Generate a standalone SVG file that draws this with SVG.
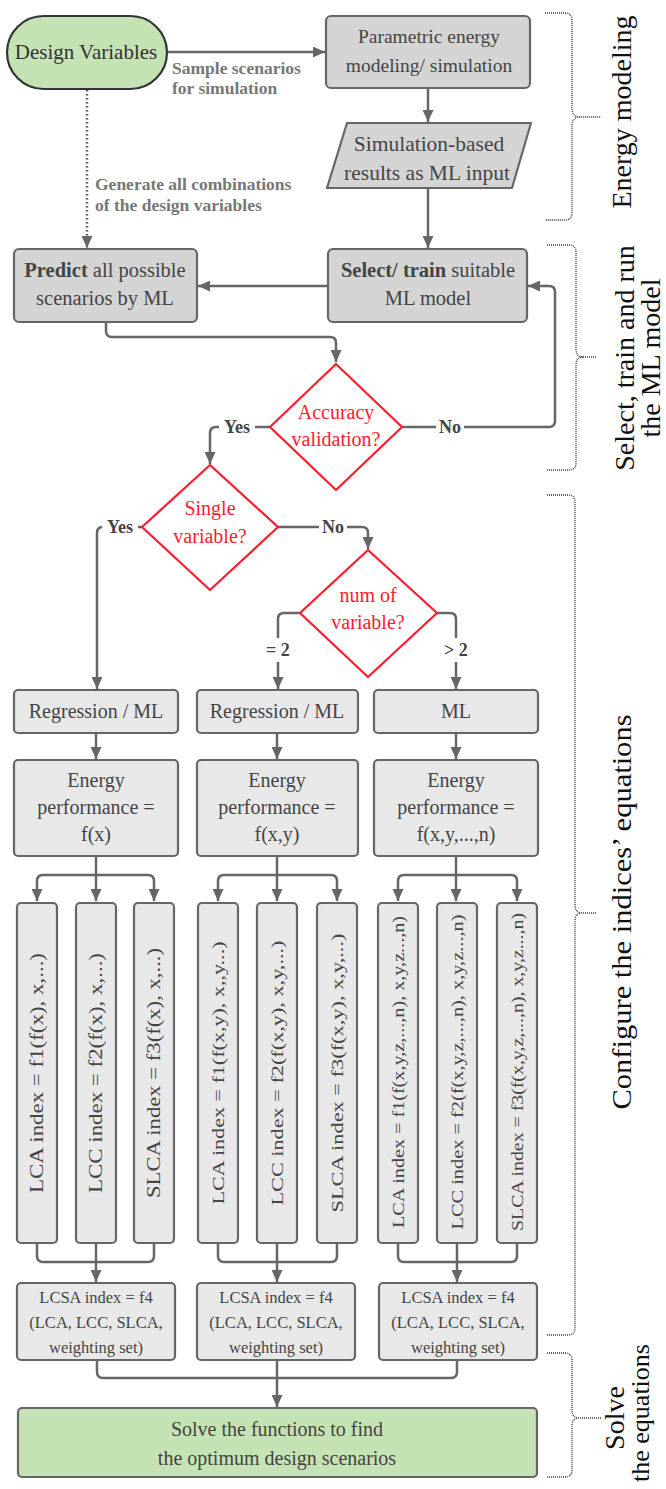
<svg xmlns="http://www.w3.org/2000/svg" width="666" height="1489" viewBox="0 0 666 1489">
<defs>
<marker id="ah" markerUnits="userSpaceOnUse" markerWidth="12" markerHeight="11" refX="12" refY="5.5" orient="auto">
<path d="M0,0 L12,5.5 L0,11 Z" fill="#666"/>
</marker>
<style>
text{font-family:"Liberation Serif","Times New Roman",serif;}
.bx{fill:#d4d4d4;stroke:#666;stroke-width:2.2;}
.lb{fill:#e8e8e8;stroke:#666;stroke-width:2.2;}
.gr{fill:#c4e2b3;stroke:#444;stroke-width:2.2;}
.dm{fill:#fff;stroke:#ff1a2e;stroke-width:2.2;}
.t{font-size:19.5px;fill:#444;text-anchor:middle;}
.t2{font-size:20px;fill:#444;text-anchor:middle;}
.ts{font-size:16.5px;fill:#444;text-anchor:middle;}
.rt{font-size:20px;fill:#ff1a2e;text-anchor:middle;}
.lab{font-size:17.5px;font-weight:bold;fill:#777;}
.yn{font-size:18px;font-weight:bold;fill:#444;text-anchor:middle;}
.vt{fill:#444;text-anchor:middle;}
.side{font-size:28px;fill:#111;text-anchor:middle;}
.c{fill:none;stroke:#666;stroke-width:2.5;}
.ca{fill:none;stroke:#666;stroke-width:2.5;marker-end:url(#ah);}
.dot{fill:none;stroke:#555;stroke-width:2.5;stroke-dasharray:1.5 2.5;marker-end:url(#ah);}
.br{fill:none;stroke:#333;stroke-width:1.3;stroke-dasharray:1 1;}
</style>
</defs>

<g id="connectors">
<path class="ca" d="M167,52 L325,52"/>
<path class="ca" d="M428,88 L428,122"/>
<path class="ca" d="M428,188 L428,248"/>
<path class="ca" d="M328,286 L198,286"/>
<path class="dot" d="M87,90 L87,248"/>
<path class="ca" d="M106,322 L106,331 Q106,337 112,337 L330,337 Q336,337 336,343 L336,362"/>
<path class="ca" d="M402,427 L549,427 Q555,427 555,421 L555,292 Q555,286 549,286 L528,286"/>
<path class="ca" d="M270,427 L216,427 Q210,427 210,433 L210,464"/>
<path class="ca" d="M142,527 L103,527 Q97,527 97,533 L97,689"/>
<path class="ca" d="M278,527 L362,527 Q368,527 368,533 L368,549"/>
<path class="ca" d="M300,613 L284,613 Q278,613 278,619 L278,689"/>
<path class="ca" d="M437,613 L450,613 Q456,613 456,619 L456,689"/>
<path class="ca" d="M96,733 L96,759"/>
<path class="ca" d="M277,733 L277,759"/>
<path class="ca" d="M456,733 L456,759"/>
<path class="ca" d="M96,856 L96,901"/>
<path class="ca" d="M96,875 L43,875 Q37,875 37,881 L37,901"/>
<path class="ca" d="M96,875 L148,875 Q154,875 154,881 L154,901"/>
<path class="ca" d="M277,856 L277,901"/>
<path class="ca" d="M277,875 L224,875 Q218,875 218,881 L218,901"/>
<path class="ca" d="M277,875 L331,875 Q337,875 337,881 L337,901"/>
<path class="ca" d="M456,856 L456,901"/>
<path class="ca" d="M456,875 L404,875 Q398,875 398,881 L398,901"/>
<path class="ca" d="M456,875 L511,875 Q517,875 517,881 L517,901"/>
<path class="c" d="M37,1243 L37,1256 Q37,1262 43,1262 L148,1262 Q154,1262 154,1256 L154,1243"/>
<path class="ca" d="M96,1243 L96,1282"/>
<path class="c" d="M218,1243 L218,1256 Q218,1262 224,1262 L331,1262 Q337,1262 337,1256 L337,1243"/>
<path class="ca" d="M277,1243 L277,1282"/>
<path class="c" d="M398,1243 L398,1256 Q398,1262 404,1262 L511,1262 Q517,1262 517,1256 L517,1243"/>
<path class="ca" d="M457,1243 L457,1282"/>
<path class="c" d="M97,1360 L97,1372 Q97,1378 103,1378 L451,1378 Q457,1378 457,1372 L457,1360"/>
<path class="ca" d="M277,1360 L277,1407"/>
</g>

<g id="labels">
<text class="lab" x="172" y="74">Sample scenarios</text>
<text class="lab" x="172" y="94">for simulation</text>
<text class="lab" x="95" y="190">Generate all combinations</text>
<text class="lab" x="95" y="211">of the design variables</text>
<rect x="219" y="415" width="36" height="22" fill="#fff"/>
<text class="yn" x="237" y="433">Yes</text>
<rect x="436" y="415" width="28" height="22" fill="#fff"/>
<text class="yn" x="450" y="433">No</text>
<rect x="102" y="515" width="36" height="22" fill="#fff"/>
<text class="yn" x="120" y="533">Yes</text>
<rect x="319" y="515" width="28" height="22" fill="#fff"/>
<text class="yn" x="333" y="533">No</text>
<rect x="262" y="638" width="32" height="24" fill="#fff"/>
<text class="yn" x="278" y="656">= 2</text>
<rect x="440" y="638" width="32" height="24" fill="#fff"/>
<text class="yn" x="456" y="656">&gt; 2</text>
</g>

<g id="design-variables">
<rect class="gr" x="7" y="16" width="160" height="73" rx="36.5" style="stroke:#333"/>
<text class="t" x="86" y="59" style="fill:#333;font-size:21px">Design Variables</text>
</g>

<g id="parametric">
<rect class="bx" x="326" y="16" width="204" height="72" rx="5"/>
<text class="t" x="429" y="43">Parametric energy</text>
<text class="t" x="429" y="72">modeling/ simulation</text>
</g>

<g id="simulation-results">
<path class="bx" d="M347,123 L531,123 L512,188 L327,188 Z" stroke-linejoin="round"/>
<text class="t" x="429" y="151" style="font-size:21.5px">Simulation-based</text>
<text class="t" x="427" y="180" style="font-size:21.5px">results as ML input</text>
</g>

<g id="select-train">
<rect class="bx" x="328" y="249" width="199" height="73" rx="5"/>
<text class="t" x="428" y="277" style="font-size:20.5px"><tspan font-weight="bold">Select/ train</tspan> suitable</text>
<text class="t" x="428" y="305" style="font-size:20.5px">ML model</text>
</g>

<g id="predict">
<rect class="bx" x="14" y="249" width="183" height="73" rx="5"/>
<text class="t" x="105" y="277" style="font-size:20.5px"><tspan font-weight="bold">Predict</tspan> all possible</text>
<text class="t" x="105" y="305" style="font-size:20.5px">scenarios by ML</text>
</g>

<g id="accuracy">
<path class="dm" d="M336,364 L402,427 L336,490 L270,427 Z" stroke-linejoin="round"/>
<text class="rt" x="336" y="419">Accuracy</text>
<text class="rt" x="336" y="446">validation?</text>
</g>

<g id="single-variable">
<path class="dm" d="M210,465 L278,527 L210,590 L142,527 Z" stroke-linejoin="round"/>
<text class="rt" x="210" y="515">Single</text>
<text class="rt" x="210" y="543">variable?</text>
</g>

<g id="num-variable">
<path class="dm" d="M368,550 L437,613 L368,677 L300,613 Z" stroke-linejoin="round"/>
<text class="rt" x="368" y="602">num of</text>
<text class="rt" x="368" y="629">variable?</text>
</g>

<g id="regression-1">
<rect class="lb" x="14" y="690" width="164" height="43" rx="4"/>
<text class="t2" x="96" y="718">Regression / ML</text>
</g>
<g id="regression-2">
<rect class="lb" x="197" y="690" width="161" height="43" rx="4"/>
<text class="t2" x="277" y="718">Regression / ML</text>
</g>
<g id="ml-3">
<rect class="lb" x="374" y="690" width="164" height="43" rx="4"/>
<text class="t2" x="456" y="718">ML</text>
</g>

<g id="energy-1">
<rect class="lb" x="14" y="760" width="164" height="96" rx="4"/>
<text class="t2" x="96" y="787">Energy</text>
<text class="t2" x="96" y="814">performance =</text>
<text class="t2" x="96" y="841">f(x)</text>
</g>
<g id="energy-2">
<rect class="lb" x="197" y="760" width="161" height="96" rx="4"/>
<text class="t2" x="277" y="787">Energy</text>
<text class="t2" x="277" y="814">performance =</text>
<text class="t2" x="277" y="841">f(x,y)</text>
</g>
<g id="energy-3">
<rect class="lb" x="374" y="760" width="164" height="96" rx="4"/>
<text class="t2" x="456" y="787">Energy</text>
<text class="t2" x="456" y="814">performance =</text>
<text class="t2" x="456" y="841">f(x,y,...,n)</text>
</g>

<g id="lca-1">
<rect class="lb" x="17" y="903" width="40" height="340" rx="4"/>
<text class="vt" font-size="18" transform="translate(37,1073) rotate(-90)" y="6" textLength="240" lengthAdjust="spacingAndGlyphs">LCA index = f1(f(x), x,...)</text>
</g>
<g id="lcc-1">
<rect class="lb" x="76" y="903" width="40" height="340" rx="4"/>
<text class="vt" font-size="18" transform="translate(96,1073) rotate(-90)" y="6" textLength="240" lengthAdjust="spacingAndGlyphs">LCC index = f2(f(x), x,...)</text>
</g>
<g id="slca-1">
<rect class="lb" x="134" y="903" width="40" height="340" rx="4"/>
<text class="vt" font-size="18" transform="translate(154,1073) rotate(-90)" y="6" textLength="250" lengthAdjust="spacingAndGlyphs">SLCA index = f3(f(x), x,...)</text>
</g>

<g id="lca-2">
<rect class="lb" x="198" y="903" width="40" height="340" rx="4"/>
<text class="vt" font-size="17" transform="translate(218,1073) rotate(-90)" y="6" textLength="263" lengthAdjust="spacingAndGlyphs">LCA index = f1(f(x,y), x,,y...)</text>
</g>
<g id="lcc-2">
<rect class="lb" x="257" y="903" width="40" height="340" rx="4"/>
<text class="vt" font-size="17" transform="translate(277,1073) rotate(-90)" y="6" textLength="265" lengthAdjust="spacingAndGlyphs">LCC index = f2(f(x,y), x,y,...)</text>
</g>
<g id="slca-2">
<rect class="lb" x="317" y="903" width="40" height="340" rx="4"/>
<text class="vt" font-size="17" transform="translate(337,1073) rotate(-90)" y="6" textLength="279" lengthAdjust="spacingAndGlyphs">SLCA index = f3(f(x,y), x,y,...)</text>
</g>

<g id="lca-3">
<rect class="lb" x="378" y="903" width="40" height="340" rx="4"/>
<text class="vt" font-size="16" transform="translate(398,1072) rotate(-90)" y="5.5" textLength="312" lengthAdjust="spacingAndGlyphs">LCA index = f1(f(x,y,z,...,n), x,y,z...,n)</text>
</g>
<g id="lcc-3">
<rect class="lb" x="437" y="903" width="40" height="340" rx="4"/>
<text class="vt" font-size="16" transform="translate(457,1072) rotate(-90)" y="5.5" textLength="315" lengthAdjust="spacingAndGlyphs">LCC index = f2(f(x,y,z,...,n), x,y,z...,n)</text>
</g>
<g id="slca-3">
<rect class="lb" x="497" y="903" width="40" height="340" rx="4"/>
<text class="vt" font-size="16" transform="translate(517,1072) rotate(-90)" y="5.5" textLength="318" lengthAdjust="spacingAndGlyphs">SLCA index = f3(f(x,y,z,...,n), x,y,z...,n)</text>
</g>

<g id="lcsa-1">
<rect class="lb" x="17" y="1283" width="158" height="77" rx="4"/>
<text class="ts" x="96" y="1303">LCSA index = f4</text>
<text class="ts" x="96" y="1328">(LCA, LCC, SLCA,</text>
<text class="ts" x="96" y="1353">weighting set)</text>
</g>
<g id="lcsa-2">
<rect class="lb" x="197" y="1283" width="158" height="77" rx="4"/>
<text class="ts" x="276" y="1303">LCSA index = f4</text>
<text class="ts" x="276" y="1328">(LCA, LCC, SLCA,</text>
<text class="ts" x="276" y="1353">weighting set)</text>
</g>
<g id="lcsa-3">
<rect class="lb" x="379" y="1283" width="158" height="77" rx="4"/>
<text class="ts" x="458" y="1303">LCSA index = f4</text>
<text class="ts" x="458" y="1328">(LCA, LCC, SLCA,</text>
<text class="ts" x="458" y="1353">weighting set)</text>
</g>

<g id="solve">
<rect class="gr" x="18" y="1408" width="519" height="69" rx="4" style="stroke:#666"/>
<text class="t2" x="277" y="1436">Solve the functions to find</text>
<text class="t2" x="277" y="1465">the optimum design scenarios</text>
</g>

<g id="brackets">
<path class="br" d="M545,13 L565,13 Q572,13 572,20 L572,108 Q572,117 580,117 L601,117 M580,117 Q572,117 572,126 L572,213 Q572,220 565,220 L545,220"/>
<path class="br" d="M547,245 L569,245 Q576,245 576,252 L576,349 Q576,357 583,357 L596,357 M583,357 Q576,357 576,365 L576,463 Q576,470 569,470 L547,470"/>
<path class="br" d="M547,495 L568,495 Q575,495 575,502 L575,905 Q575,913 582,913 L597,913 M582,913 Q575,913 575,921 L575,1328 Q575,1335 568,1335 L547,1335"/>
<path class="br" d="M547,1353 L565,1353 Q572,1353 572,1360 L572,1410 Q572,1418 579,1418 L601,1418 M579,1418 Q572,1418 572,1426 L572,1470 Q572,1477 565,1477 L547,1477"/>
</g>

<g id="side-labels">
<text class="side" transform="translate(631,112) rotate(-90)">Energy modeling</text>
<text class="side" transform="translate(634,358) rotate(-90)">Select, train and run</text>
<text class="side" transform="translate(660,358) rotate(-90)">the ML model</text>
<text class="side" transform="translate(631,912) rotate(-90)" textLength="395" lengthAdjust="spacingAndGlyphs">Configure the indices’ equations</text>
<text class="side" transform="translate(624,1418) rotate(-90)">Solve</text>
<text class="side" style="font-size:26px" transform="translate(649,1413) rotate(-90)">the equations</text>
</g>
</svg>
